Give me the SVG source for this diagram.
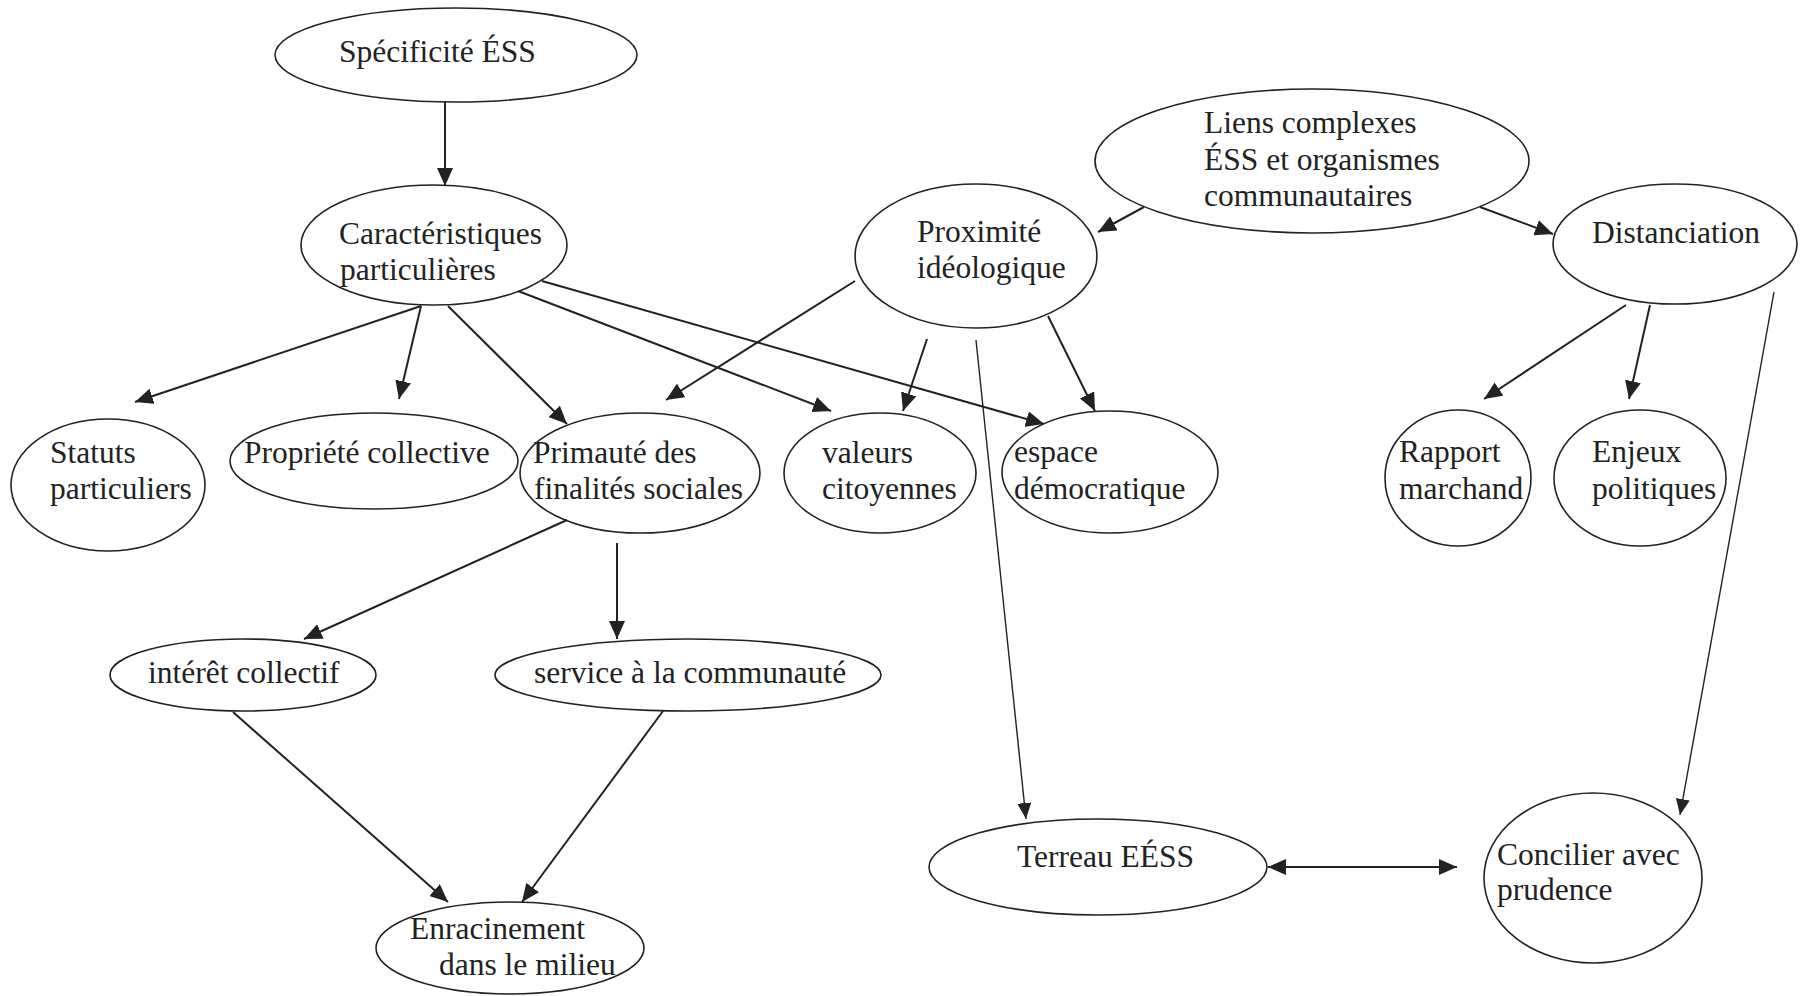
<svg xmlns="http://www.w3.org/2000/svg" width="1800" height="996" viewBox="0 0 1800 996">
<defs>
<style>
.n ellipse{fill:none;stroke:#222;stroke-width:1.6}
text{font-family:"Liberation Serif","Times New Roman",serif;font-size:31.5px;fill:#222}
.c line{stroke:#222;stroke-width:2}
.c line.t{stroke-width:1.4}
</style>
<marker id="a" markerUnits="userSpaceOnUse" markerWidth="18" markerHeight="16" refX="18" refY="8" orient="auto-start-reverse"><path d="M0,0 L18,8 L0,16 z" fill="#222"/></marker>
<marker id="b" markerUnits="userSpaceOnUse" markerWidth="16" markerHeight="14" refX="16" refY="7" orient="auto"><path d="M0,0 L16,7 L0,14 z" fill="#222"/></marker>
</defs>
<rect width="1800" height="996" fill="#fff"/>
<g class="c">
<line x1="445" y1="102" x2="445" y2="186" marker-end="url(#a)"/>
<line x1="421" y1="306" x2="135" y2="402" marker-end="url(#a)"/>
<line x1="421" y1="306" x2="399" y2="399" marker-end="url(#a)"/>
<line x1="448" y1="306" x2="567" y2="424" marker-end="url(#a)"/>
<line x1="518" y1="291" x2="831" y2="411" marker-end="url(#a)"/>
<line x1="542" y1="281" x2="1044" y2="424" marker-end="url(#a)"/>
<line x1="855" y1="281" x2="666" y2="400" marker-end="url(#a)"/>
<line x1="927" y1="339" x2="903" y2="411" marker-end="url(#a)"/>
<line x1="1048" y1="316" x2="1095" y2="411" marker-end="url(#a)"/>
<line class="t" x1="976" y1="340" x2="1026" y2="819" marker-end="url(#b)"/>
<line x1="1144" y1="207" x2="1098" y2="232" marker-end="url(#a)"/>
<line x1="1480" y1="207" x2="1553" y2="234" marker-end="url(#a)"/>
<line x1="1626" y1="305" x2="1484" y2="399" marker-end="url(#a)"/>
<line x1="1650" y1="305" x2="1629" y2="399" marker-end="url(#a)"/>
<line class="t" x1="1774" y1="292" x2="1680" y2="815" marker-end="url(#b)"/>
<line x1="567" y1="520" x2="304" y2="639" marker-end="url(#a)"/>
<line x1="617" y1="543" x2="617" y2="639" marker-end="url(#a)"/>
<line x1="233" y1="712" x2="448" y2="902" marker-end="url(#a)"/>
<line x1="663" y1="711" x2="522" y2="902" marker-end="url(#a)"/>
<line x1="1268" y1="867" x2="1457" y2="867" marker-start="url(#a)" marker-end="url(#a)"/>
</g>
<g id="specificite" class="n"><ellipse cx="456" cy="55" rx="181" ry="47"/><text x="339" y="62">Spécificité ÉSS</text></g>
<g id="caracteristiques" class="n"><ellipse cx="434" cy="245" rx="133" ry="60"/><text x="339" y="244">Caractéristiques</text><text x="340" y="280">particulières</text></g>
<g id="statuts" class="n"><ellipse cx="108" cy="485" rx="97" ry="66"/><text x="50" y="463">Statuts</text><text x="50" y="499">particuliers</text></g>
<g id="propriete" class="n"><ellipse cx="374" cy="461" rx="144" ry="48"/><text x="244" y="463">Propriété collective</text></g>
<g id="primaute" class="n"><ellipse cx="640" cy="473" rx="120" ry="60"/><text x="533" y="463">Primauté des</text><text x="534" y="499">finalités sociales</text></g>
<g id="valeurs" class="n"><ellipse cx="880" cy="473" rx="96" ry="60"/><text x="822" y="463">valeurs</text><text x="822" y="499">citoyennes</text></g>
<g id="espace" class="n"><ellipse cx="1110" cy="472" rx="108" ry="61"/><text x="1014" y="462">espace</text><text x="1014" y="499">démocratique</text></g>
<g id="proximite" class="n"><ellipse cx="976" cy="256" rx="121" ry="72"/><text x="917" y="242">Proximité</text><text x="917" y="278">idéologique</text></g>
<g id="liens" class="n"><ellipse cx="1312" cy="161" rx="217" ry="72"/><text x="1204" y="133">Liens complexes</text><text x="1204" y="170">ÉSS et organismes</text><text x="1204" y="206">communautaires</text></g>
<g id="distanciation" class="n"><ellipse cx="1675" cy="244" rx="122" ry="60"/><text x="1592" y="243">Distanciation</text></g>
<g id="rapport" class="n"><ellipse cx="1458" cy="478" rx="73" ry="68"/><text x="1399" y="462">Rapport</text><text x="1399" y="499">marchand</text></g>
<g id="enjeux" class="n"><ellipse cx="1640" cy="478" rx="86" ry="68"/><text x="1592" y="462">Enjeux</text><text x="1592" y="499">politiques</text></g>
<g id="interet" class="n"><ellipse cx="243" cy="675" rx="133" ry="36"/><text x="148" y="683">intérêt collectif</text></g>
<g id="service" class="n"><ellipse cx="688" cy="675" rx="193" ry="36"/><text x="534" y="683">service à la communauté</text></g>
<g id="enracinement" class="n"><ellipse cx="510" cy="948" rx="134" ry="46"/><text x="410" y="939">Enracinement</text><text x="439" y="975">dans le milieu</text></g>
<g id="terreau" class="n"><ellipse cx="1098" cy="867" rx="169" ry="48"/><text x="1017" y="867">Terreau EÉSS</text></g>
<g id="concilier" class="n"><ellipse cx="1593" cy="878" rx="109" ry="85"/><text x="1497" y="865">Concilier avec</text><text x="1497" y="900">prudence</text></g>
</svg>
